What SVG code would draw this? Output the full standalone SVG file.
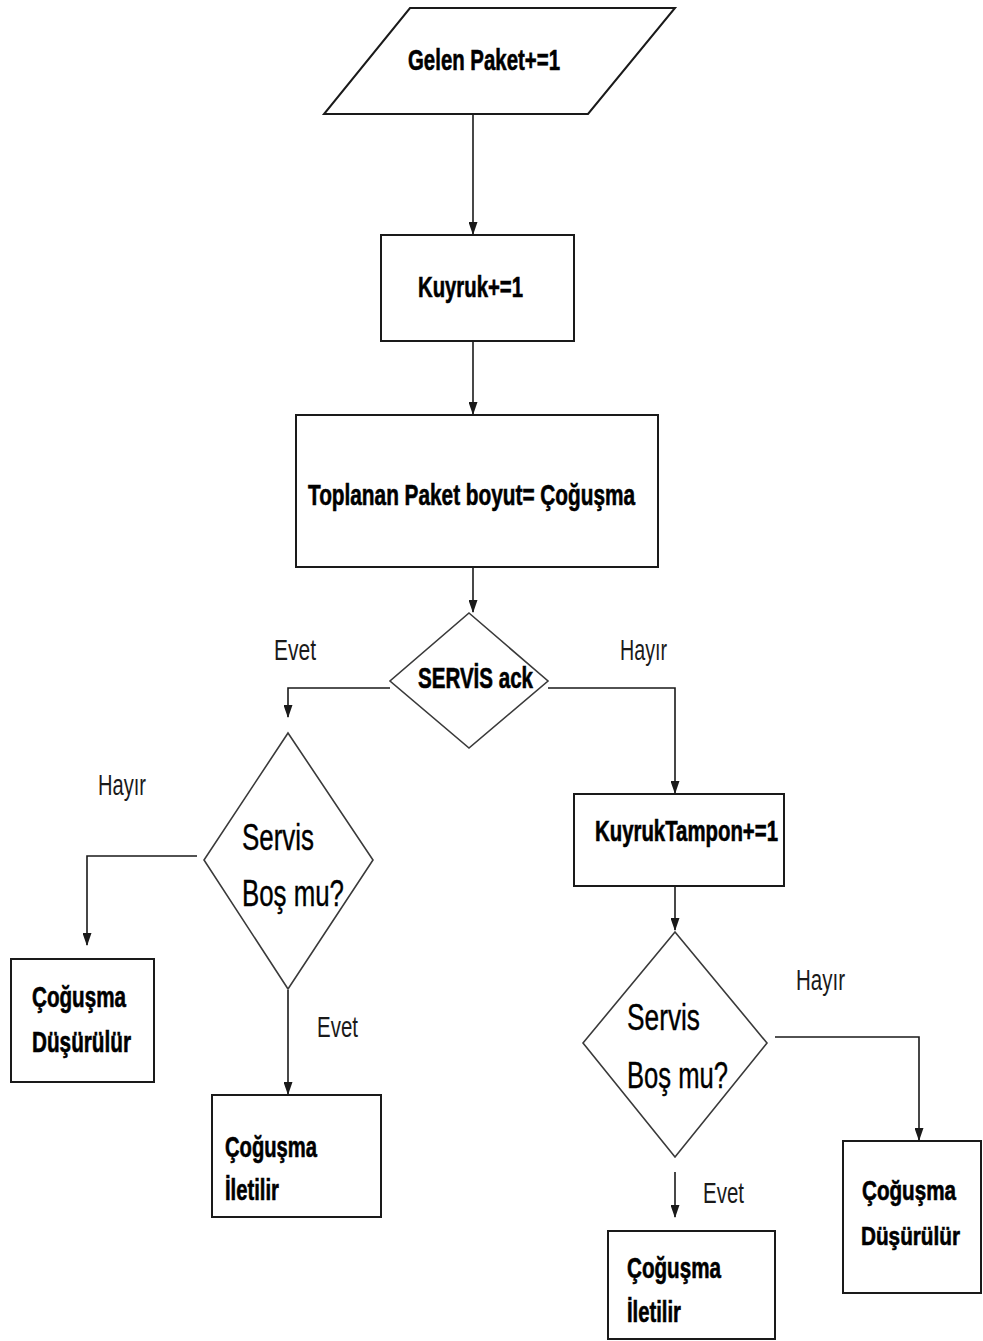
<svg xmlns="http://www.w3.org/2000/svg" width="983" height="1341" viewBox="0 0 983 1341">
  <style>
    .box { fill: #fff; stroke: #1a1a1a; stroke-width: 2; }
    .dia { fill: #fff; stroke: #3a3a3a; stroke-width: 1.6; }
    .wire { fill: none; stroke: #1a1a1a; stroke-width: 1.6; }
    .b { font-family: "Liberation Sans", Arial, sans-serif; font-weight: bold; fill: #000; stroke: #000; stroke-width: 0.6; }
    .r { font-family: "Liberation Sans", Arial, sans-serif; fill: #1a1a1a; }
    .q { font-family: "Liberation Sans", Arial, sans-serif; fill: #000; stroke: #000; stroke-width: 0.4; }
  </style>
  <defs>
    <marker id="ah" markerUnits="userSpaceOnUse" markerWidth="13" markerHeight="9" refX="12" refY="4.5" orient="auto" viewBox="0 0 13 9">
      <path d="M0,0 L13,4.5 L0,9 Z" fill="#1a1a1a"/>
    </marker>
  </defs>

  <rect width="983" height="1341" fill="#fff"/>

  <!-- connectors -->
  <g id="connectors">
    <line class="wire" x1="473" y1="115" x2="473" y2="234" marker-end="url(#ah)"/>
    <line class="wire" x1="473" y1="341" x2="473" y2="414" marker-end="url(#ah)"/>
    <line class="wire" x1="473" y1="567" x2="473" y2="612" marker-end="url(#ah)"/>
    <polyline class="wire" points="390,688 288,688 288,717" marker-end="url(#ah)"/>
    <polyline class="wire" points="548,688 675,688 675,793" marker-end="url(#ah)"/>
    <polyline class="wire" points="197,856 87,856 87,945" marker-end="url(#ah)"/>
    <line class="wire" x1="288" y1="990" x2="288" y2="1094" marker-end="url(#ah)"/>
    <line class="wire" x1="675" y1="886" x2="675" y2="930" marker-end="url(#ah)"/>
    <polyline class="wire" points="775,1037 919,1037 919,1140" marker-end="url(#ah)"/>
    <line class="wire" x1="675" y1="1172" x2="675" y2="1217" marker-end="url(#ah)"/>
  </g>

  <!-- connector labels -->
  <g id="labels">
    <text class="r" x="274" y="660" font-size="29" textLength="42" lengthAdjust="spacingAndGlyphs">Evet</text>
    <text class="r" x="620" y="660" font-size="29" textLength="47" lengthAdjust="spacingAndGlyphs">Hayır</text>
    <text class="r" x="98" y="795" font-size="29" textLength="48" lengthAdjust="spacingAndGlyphs">Hayır</text>
    <text class="r" x="317" y="1037" font-size="29" textLength="41" lengthAdjust="spacingAndGlyphs">Evet</text>
    <text class="r" x="796" y="990" font-size="29" textLength="49" lengthAdjust="spacingAndGlyphs">Hayır</text>
    <text class="r" x="703" y="1203" font-size="29" textLength="41" lengthAdjust="spacingAndGlyphs">Evet</text>
  </g>

  <g id="gelen-paket">
    <polygon class="box" points="410,8 675,8 588,114 324,114"/>
    <text class="b" x="408" y="70" font-size="29" textLength="152" lengthAdjust="spacingAndGlyphs">Gelen Paket+=1</text>
  </g>

  <g id="kuyruk">
    <rect class="box" x="381" y="235" width="193" height="106"/>
    <text class="b" x="418" y="297" font-size="29" textLength="105" lengthAdjust="spacingAndGlyphs">Kuyruk+=1</text>
  </g>

  <g id="toplanan">
    <rect class="box" x="296" y="415" width="362" height="152"/>
    <text class="b" x="308" y="505" font-size="29" textLength="327" lengthAdjust="spacingAndGlyphs">Toplanan Paket boyut= Çoğuşma</text>
  </g>

  <g id="servis-ack">
    <polygon class="dia" points="469,613 548,681 469,748 390,681"/>
    <text class="b" x="418" y="688" font-size="29" textLength="115" lengthAdjust="spacingAndGlyphs">SERVİS ack</text>
  </g>

  <g id="servis-bos-sol">
    <polygon class="dia" points="288,733 373,860 288,989 204,860"/>
    <text class="q" x="242" y="850" font-size="36" textLength="72" lengthAdjust="spacingAndGlyphs">Servis</text>
    <text class="q" x="242" y="906" font-size="36" textLength="102" lengthAdjust="spacingAndGlyphs">Boş mu?</text>
  </g>

  <g id="dusurulur-sol">
    <rect class="box" x="11" y="959" width="143" height="123"/>
    <text class="b" x="32" y="1007" font-size="29" textLength="94" lengthAdjust="spacingAndGlyphs">Çoğuşma</text>
    <text class="b" x="32" y="1052" font-size="29" textLength="99" lengthAdjust="spacingAndGlyphs">Düşürülür</text>
  </g>

  <g id="iletilir-sol">
    <rect class="box" x="212" y="1095" width="169" height="122"/>
    <text class="b" x="225" y="1157" font-size="29" textLength="92" lengthAdjust="spacingAndGlyphs">Çoğuşma</text>
    <text class="b" x="225" y="1200" font-size="29" textLength="54" lengthAdjust="spacingAndGlyphs">İletilir</text>
  </g>

  <g id="kuyruk-tampon">
    <rect class="box" x="574" y="794" width="210" height="92"/>
    <text class="b" x="595" y="841" font-size="29" textLength="183" lengthAdjust="spacingAndGlyphs">KuyrukTampon+=1</text>
  </g>

  <g id="servis-bos-sag">
    <polygon class="dia" points="675,932 767,1043 675,1157 583,1043"/>
    <text class="q" x="627" y="1030" font-size="36" textLength="73" lengthAdjust="spacingAndGlyphs">Servis</text>
    <text class="q" x="627" y="1088" font-size="36" textLength="101" lengthAdjust="spacingAndGlyphs">Boş mu?</text>
  </g>

  <g id="dusurulur-sag">
    <rect class="box" x="843" y="1141" width="138" height="152"/>
    <text class="b" x="862" y="1200" font-size="27" textLength="94" lengthAdjust="spacingAndGlyphs">Çoğuşma</text>
    <text class="b" x="861" y="1245" font-size="25" textLength="99" lengthAdjust="spacingAndGlyphs">Düşürülür</text>
  </g>

  <g id="iletilir-sag">
    <rect class="box" x="608" y="1231" width="167" height="108"/>
    <text class="b" x="627" y="1278" font-size="29" textLength="94" lengthAdjust="spacingAndGlyphs">Çoğuşma</text>
    <text class="b" x="627" y="1322" font-size="29" textLength="54" lengthAdjust="spacingAndGlyphs">İletilir</text>
  </g>
</svg>
